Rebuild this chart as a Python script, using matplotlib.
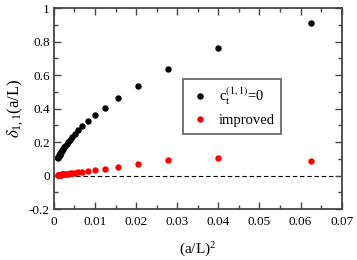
import matplotlib
matplotlib.use("Agg")
import matplotlib.pyplot as plt
from matplotlib.ticker import MultipleLocator

plt.rcParams["font.family"] = ["Liberation Serif", "DejaVu Serif"]
plt.rcParams["mathtext.fontset"] = "stix"
plt.rcParams["font.size"] = 9.5

# lattice sizes L/a, x = (a/L)^2
L_sizes = list(range(4, 33))
x_vals = [1.0 / L**2 for L in L_sizes]

# c_t^(1,1)=0
delta_ct0 = [0.909, 0.761, 0.636, 0.536, 0.461, 0.405, 0.361, 0.325, 0.297,
             0.272, 0.250, 0.232, 0.215, 0.202, 0.190, 0.179, 0.170, 0.161,
             0.153, 0.146, 0.140, 0.134, 0.129, 0.124, 0.120, 0.116, 0.112,
             0.108, 0.104]
# improved
delta_imp = [0.087, 0.103, 0.091, 0.069, 0.053, 0.039, 0.031, 0.026, 0.022,
             0.019, 0.017, 0.015, 0.013, 0.012, 0.011, 0.010, 0.009, 0.008,
             0.007, 0.0065, 0.006, 0.0055, 0.005, 0.0045, 0.004, 0.0037,
             0.0034, 0.003, 0.0028]

x_ticks = [0, 0.01, 0.02, 0.03, 0.04, 0.05, 0.06, 0.07]
x_ticklabels = ["0", "0.01", "0.02", "0.03", "0.04", "0.05", "0.06", "0.07"]
y_ticks = [-0.2, 0, 0.2, 0.4, 0.6, 0.8, 1.0]
y_ticklabels = ["-0.2", "0", "0.2", "0.4", "0.6", "0.8", "1"]

fig = plt.figure(figsize=(3.57, 2.6), dpi=100)
ax = fig.add_axes([0.151, 0.196, 0.806, 0.773])

ax.axhline(0, color="black", lw=0.8, ls=(0, (4, 2.5)), zorder=1)
ax.plot(x_vals, delta_ct0, "o", color="black", ms=4.6, mec="none",
        label=r"c$_{\mathregular{t}}^{(1,1)}$=0", zorder=3)
ax.plot(x_vals, delta_imp, "o", color="red", ms=4.6, mec="none",
        label="improved", zorder=3)

ax.set_xlim(0, 0.07)
ax.set_ylim(-0.2, 1.0)
ax.set_xticks(x_ticks)
ax.set_xticklabels(x_ticklabels)
ax.set_yticks(y_ticks)
ax.set_yticklabels(y_ticklabels)
ax.xaxis.set_minor_locator(MultipleLocator(0.005))
ax.yaxis.set_minor_locator(MultipleLocator(0.1))

ax.tick_params(which="both", direction="in", top=True, right=True,
               color="#444444", width=1.0)
ax.tick_params(which="major", length=5, pad=5)
ax.tick_params(axis="y", which="major", pad=3)
ax.tick_params(which="minor", length=3)
for s in ax.spines.values():
    s.set_color("#444444")
    s.set_linewidth(1.3)

ax.set_xlabel(r"(a/L)$^{\mathregular{2}}$", fontsize=11, labelpad=8)
ax.set_ylabel(r"$\delta_{\mathregular{1,1}}$(a/L)", fontsize=12, labelpad=2)

leg = ax.legend(loc="upper left", bbox_to_anchor=(0.449, 0.647),
                borderaxespad=0, frameon=True, fancybox=False,
                handletextpad=0.6, handlelength=1.4, borderpad=0.45,
                labelspacing=0.45, fontsize=10.5)
leg.get_frame().set_edgecolor("#444444")
leg.get_frame().set_linewidth(1.3)

fig.savefig("out.png", dpi=100)
